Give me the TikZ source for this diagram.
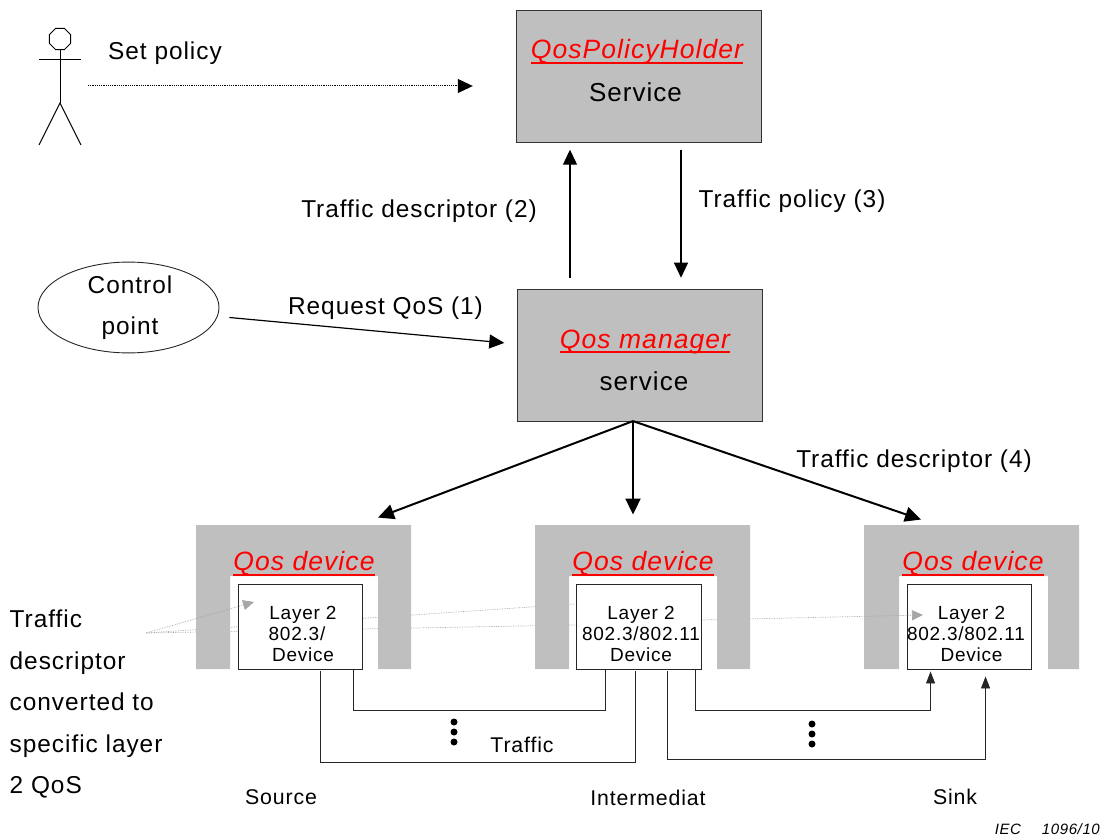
\documentclass[tikz,border=0pt]{standalone}
\usepackage{fontspec}
\setmainfont{Liberation Sans}[LetterSpace=4]
\usetikzlibrary{positioning,arrows.meta,shapes.geometric}
\definecolor{qosgrey}{HTML}{BFBFBF}

\begin{document}
\begin{tikzpicture}[
  x=1pt, y=-1pt,
  txt/.style={font=\fontsize{24.4}{41.5}\selectfont, inner sep=0pt, align=left},
  small/.style={font=\fontsize{21.3}{25}\selectfont, inner sep=0pt},
  service/.style={draw=black!80, fill=qosgrey, minimum width=245pt, minimum height=132pt, inner sep=0pt},
  qoslabel/.style={font=\fontsize{26.5}{30}\selectfont\itshape, text=red, inner sep=0pt, text height=19pt, text depth=3.5pt},
  qosline/.style={draw=red, line width=2pt},
  servlabel/.style={font=\fontsize{26}{30}\selectfont, inner sep=0pt},
  layerbox/.style={draw=black!85, fill=white, line width=0.9pt, minimum height=85pt, inner sep=0pt},
  layertext/.style={font=\fontsize{19}{21}\selectfont, align=center, inner sep=0pt},
  dotmark/.style={circle, fill=black, minimum size=7pt, inner sep=0pt},
  arr/.style={-{Triangle[length=15pt,width=14pt]}, line width=1.2pt},
  fat/.style={-{Triangle[length=16pt,width=15pt]}, line width=2pt},
  wire/.style={line width=0.9pt, draw=black!85},
  wirearr/.style={wire, -{Triangle[length=12pt,width=9pt]}},
  faint/.style={gray!70, line width=0.7pt, densely dotted},
  faintarr/.style={faint, -{Triangle[length=11pt,width=10pt]}}
]
\useasboundingbox (0,0) rectangle (1101,837);

% actor
\node[regular polygon, regular polygon sides=8, draw, line width=1pt, minimum size=23pt, inner sep=0pt] (head) at (60,39) {};
\coordinate (hip) at (60,103);
\coordinate (armL) at (39,60);
\coordinate (armR) at (81,60);
\coordinate (footL) at (39,145);
\coordinate (footR) at (81,145);
\draw[line width=1pt] (head.south) -- (hip);
\draw[line width=1pt] (armL) -- (armR);
\draw[line width=1pt] (footL) -- (hip) -- (footR);
\node[txt] (setpol) at (165,53) {Set policy};
\coordinate (polStart) at (88,86);

% services
\node[service] (holder) at (638.5,76.5) {};
\node[service, below=146pt of holder, xshift=1.5pt] (mgr) {};
\node[qoslabel] (holderName) at (637,51.25) {QosPolicyHolder};
\node[servlabel] (holderServ) at ([shift={(-3,16)}]holder.center) {Service};
\node[qoslabel] (mgrName) at (645,340.5) {Qos manager};
\node[servlabel] (mgrServ) at ([shift={(4,26)}]mgr.center) {service};
\draw[qosline] (holderName.south west) -- (holderName.south east);
\draw[qosline] (mgrName.south west) -- (mgrName.south east);

\node[ellipse, draw=black!85, line width=0.9pt, minimum width=181pt, minimum height=89pt, inner sep=0pt, txt] (ctrl) at (128.5,307.5) {\hspace*{3pt}\parbox{90pt}{\centering Control\\point}};

% right device goes first, the faint lines run over it
\fill[qosgrey] (864,525) -- ++(215,0) -- ++(0,144) -- ++(-31,0) -- ++(0,-93) -- ++(-149,0) -- ++(0,93) -- ++(-35,0) -- cycle;
\node[layerbox, minimum width=124pt] (layerC) at (969,626.5) {};
\node[layertext] (textC) at ([shift={(-3,7)}]layerC.center) {\hspace*{11pt}Layer 2\\802.3/802.11\\\hspace*{11pt}Device};

\coordinate (fan) at (146,633);
\coordinate (tipA) at (254,602);
\coordinate (endB1) at (575,604);
\coordinate (endB2) at (575,625);
\coordinate (startB) at (701,620);
\coordinate (tipC) at (923,615);
\draw[faint] (fan) -- (endB1);
\draw[faint] (fan) -- (endB2);
\draw[faintarr] (startB) -- (tipC);

% left and middle device
\foreach \x/\n in {196/A,535/B}{
  \fill[qosgrey] (\x,525) -- ++(215,0) -- ++(0,144) -- ++(-33,0) -- ++(0,-93) -- ++(-148,0) -- ++(0,93) -- ++(-34,0) -- cycle;
}
\node[layerbox, minimum width=124pt] (layerA) at (300,626.5) {};
\node[layerbox, minimum width=125pt] (layerB) at (638.5,626.5) {};
\node[layertext] (textA) at ([shift={(3,7)}]layerA.center) {Layer 2\\802.3/\hspace*{12pt}\mbox{}\\Device};
\node[layertext] (textB) at ([shift={(2.5,7)}]layerB.center) {Layer 2\\802.3/802.11\\Device};
\draw[faintarr] (fan) -- (tipA);

\node[qoslabel] (nameA) at (304,563.2) {Qos device};
\node[qoslabel] (nameB) at (643,563.2) {Qos device};
\node[qoslabel] (nameC) at (973,563.2) {Qos device};
\foreach \n in {A,B,C}{
  \draw[qosline] (name\n.south west) -- (name\n.south east);
}

% arrows
\draw[arr, densely dotted, line width=1pt] (polStart) -- ([shift={(-43,9.5)}]holder.west);
\draw[arr] ([shift={(-70,-11)}]mgr.north) -- ([shift={(-68.5,7)}]holder.south);
\draw[arr] ([shift={(42.5,7)}]holder.south) -- ([shift={(41,-11)}]mgr.north);
\draw[arr] ([shift={(10,10)}]ctrl.east) -- ([shift={(-13,-12)}]mgr.west);
\coordinate (mgrFoot) at ([shift={(-7,0)}]mgr.south);
\draw[fat] (mgrFoot) -- ([shift={(78,-66)}]layerA.north);
\draw[fat] (mgrFoot) -- ([shift={(-5.5,-69)}]layerB.north);
\draw[fat] (mgrFoot) -- ([shift={(-48,-64)}]layerC.north);

\draw[wire] ([shift={(83,2)}]layerA.south west) |- ([shift={(59.5,93)}]layerB.south west) -- ([shift={(59.5,2)}]layerB.south west);
\draw[wire] ([shift={(116,0)}]layerA.south west) |- ([shift={(29.5,41)}]layerB.south west) -- ([shift={(29.5,0)}]layerB.south west);
\draw[wirearr] ([shift={(120,0)}]layerB.south west) |- ([shift={(24,41)}]layerC.south west) -- ([shift={(24,2)}]layerC.south west);
\draw[wirearr] ([shift={(91.5,2)}]layerB.south west) |- ([shift={(79,90)}]layerC.south west) -- ([shift={(79,7)}]layerC.south west);

\foreach \y/\n in {722/1,732/2,742/3}{
  \node[dotmark] (dotL\n) at (454,\y) {};
}
\foreach \y/\n in {724/1,734/2,744/3}{
  \node[dotmark] (dotR\n) at (812,\y) {};
}

% labels
\node[txt] (desc2) at (419,211) {Traffic descriptor (2)};
\node[txt] (pol3) at (792,201) {Traffic policy (3)};
\node[txt] (req1) at (385.5,308) {Request QoS (1)};
\node[txt] (desc4) at (914,461) {Traffic descriptor (4)};
\node[txt, anchor=west] (conv) at (9.5,704) {Traffic\\descriptor\\converted to\\specific layer\\2 QoS};
\node[small] (traffic) at (522,745) {Traffic};
\node[small] (source) at (281,797) {Source};
\node[small] (inter) at (648,798) {Intermediat};
\node[small] (sink) at (955,797) {Sink};
\node[font=\fontsize{15}{18}\selectfont\itshape, inner sep=0pt, anchor=east] (iec) at (1100,829) {IEC\hspace{21pt}1096/10};
\end{tikzpicture}
\end{document}
